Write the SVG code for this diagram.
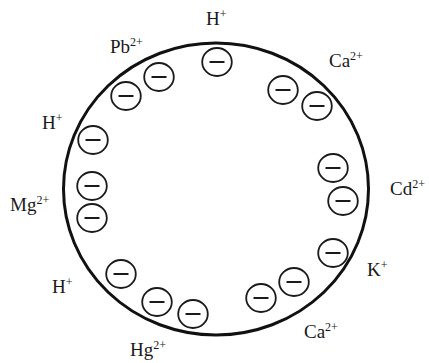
<svg xmlns="http://www.w3.org/2000/svg" width="429" height="363" viewBox="0 0 429 363">
<defs>
<style>
.lbl{font-family:"Liberation Serif","Times New Roman",serif;font-size:19px;fill:#1a1a1a}
.sup{font-size:12px}
</style>
<g id="neg">
<ellipse cx="0" cy="0" rx="14.8" ry="14" style="fill:none;stroke:#1a1a1a;stroke-width:1.8"/>
<line x1="-7.5" y1="0" x2="7.5" y2="0" style="stroke:#1a1a1a;stroke-width:2"/>
</g>
</defs>
<rect width="429" height="363" fill="#ffffff"/>
<g id="cell">
<ellipse cx="216" cy="189" rx="152.5" ry="146" fill="none" stroke="#111" stroke-width="3"/>
</g>
<g id="charges">
<use href="#neg" x="217" y="62"/>
<use href="#neg" x="159" y="77"/>
<use href="#neg" x="126" y="96"/>
<use href="#neg" x="93" y="140"/>
<use href="#neg" x="92" y="186"/>
<use href="#neg" x="92" y="218"/>
<use href="#neg" x="121" y="274"/>
<use href="#neg" x="157" y="302"/>
<use href="#neg" x="193" y="314"/>
<use href="#neg" x="261" y="298"/>
<use href="#neg" x="294" y="282"/>
<use href="#neg" x="333" y="253"/>
<use href="#neg" x="343" y="201"/>
<use href="#neg" x="333" y="168"/>
<use href="#neg" x="283" y="90"/>
<use href="#neg" x="317" y="106"/>
</g>
<g id="labels" class="lbl">
<text x="206" y="25">H<tspan class="sup" dy="-7">+</tspan></text>
<text x="110" y="53">Pb<tspan class="sup" dy="-7">2+</tspan></text>
<text x="329" y="67">Ca<tspan class="sup" dy="-7">2+</tspan></text>
<text x="42" y="129">H<tspan class="sup" dy="-7">+</tspan></text>
<text x="10" y="211">Mg<tspan class="sup" dy="-7">2+</tspan></text>
<text x="52" y="293">H<tspan class="sup" dy="-7">+</tspan></text>
<text x="130" y="356">Hg<tspan class="sup" dy="-7">2+</tspan></text>
<text x="304" y="338">Ca<tspan class="sup" dy="-7">2+</tspan></text>
<text x="367" y="276">K<tspan class="sup" dy="-7">+</tspan></text>
<text x="390" y="195">Cd<tspan class="sup" dy="-7">2+</tspan></text>
</g>
</svg>
